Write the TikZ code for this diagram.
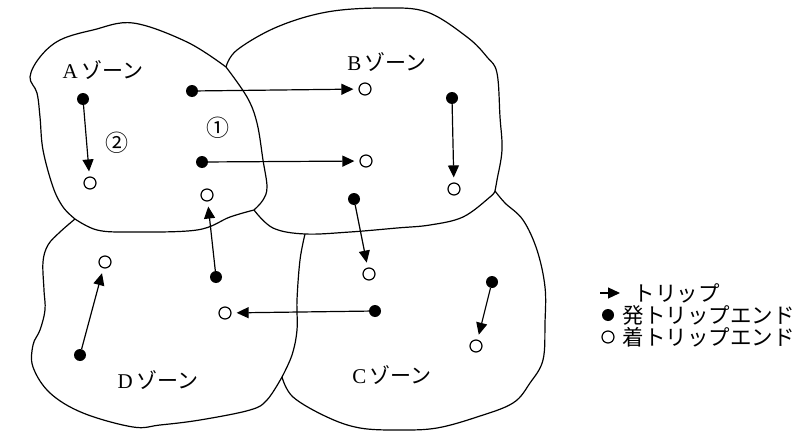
\documentclass[tikz,border=0pt]{standalone}
\usepackage{fontspec}
\setmainfont{Liberation Serif}
\newfontfamily\jp{Noto Sans CJK JP}
\usetikzlibrary{arrows.meta}
\tikzset{
zone/.style={line width=1.2pt, line join=round},
dep/.style={circle, fill=black, inner sep=0pt, minimum size=12pt},
arr/.style={circle, draw=black, line width=1.2pt, inner sep=0pt, minimum size=12pt},
trip/.style={-{Triangle[length=12pt,width=11pt]}, line width=1.2pt, shorten >=5pt},
zonename/.style={font=\fontsize{21}{21}\selectfont},
legtext/.style={anchor=west, font=\jp\fontsize{21.5}{21.5}\selectfont},
}

\begin{document}
\begin{tikzpicture}[x=1pt,y=-1pt]
        \useasboundingbox (0,0) rectangle (807,431);
        % zone outlines
        \draw[zone] plot[smooth, tension=0.6] coordinates {(75,219) (63,207) (53,187) (43,150) (40,117) (37,93) (30,77) (40,57) (60,40) (93,30) (133,23) (187,42) (226,67)};
        \draw[zone] plot[smooth, tension=0.6] coordinates {(226,67) (247,97) (257,123) (263,160) (267,187) (263,200) (254,210)};
        \draw[zone] plot[smooth, tension=0.6] coordinates {(75,219) (97,230) (130,232) (197,230) (230,217) (254,210)};
        \draw[zone] plot[smooth, tension=0.6] coordinates {(226,67) (237,50) (277,27) (327,12) (383,8) (427,12) (467,37) (487,57) (497,73) (500,117) (502,150) (497,180) (495,191)};
        \draw[zone] plot[smooth, tension=0.6] coordinates {(254,210) (273,228) (305,234) (350,232) (397,228) (430,225) (463,217) (490,197) (495,191)};
        \draw[zone] plot[smooth, tension=0.6] coordinates {(75,219) (60,232) (48,245) (43,262) (44,290) (45,310) (40,330) (33,345) (33,367) (50,393) (83,413) (133,427) (160,425) (200,420) (250,410) (267,400) (282,377)};
        \draw[zone] plot[smooth, tension=0.6] coordinates {(305,234) (300,260) (297,300) (297,330) (292,355) (282,377)};
        \draw[zone] plot[smooth, tension=0.6] coordinates {(282,377) (293,397) (327,417) (360,428) (400,430) (437,428) (477,417) (513,403) (530,383) (543,360) (545,323) (545,287) (537,250) (523,220) (505,203) (495,191)};
        % zone names
        \node[zonename] (za) at (103,70) {A\,{\jp ゾーン}};
        \node[zonename] (zb) at (387,62) {B\,{\jp ゾーン}};
        \node[zonename] (zc) at (392,375) {C\,{\jp ゾーン}};
        \node[zonename] (zd) at (158,380) {D\,{\jp ゾーン}};
        \node[zonename] (n1) at (218,128) {\jp\fontsize{23}{23}\selectfont ①};
        \node[zonename] (n2) at (117,143) {\jp\fontsize{23}{23}\selectfont ②};
        % trip ends
        \node[dep] (a1) at (83,99) {};
        \node[arr] (a2) at (90,183) {};
        \node[dep] (a3) at (192,91) {};
        \node[dep] (a4) at (202,162) {};
        \node[arr] (a5) at (207,195) {};
        \node[arr] (b1) at (365,89) {};
        \node[arr] (b2) at (366,161) {};
        \node[dep] (b3) at (452,98) {};
        \node[arr] (b4) at (454,189) {};
        \node[dep] (b5) at (354,199) {};
        \node[arr] (c1) at (369,274) {};
        \node[dep] (c2) at (375,311) {};
        \node[dep] (c3) at (492,282) {};
        \node[arr] (c4) at (476,346) {};
        \node[dep] (d1) at (80,355) {};
        \node[arr] (d2) at (105,262) {};
        \node[dep] (d3) at (216,277) {};
        \node[arr] (d4) at (225,313) {};
        % trips
        \draw[trip] (a1) -- (a2);
        \draw[trip] (a3) -- (b1);
        \draw[trip] (a4) -- (b2);
        \draw[trip] (b3) -- (b4);
        \draw[trip] (b5) -- (c1);
        \draw[trip] (c2) -- (d4);
        \draw[trip] (c3) -- (c4);
        \draw[trip] (d1) -- (d2);
        \draw[trip] (d3) -- (a5);
        % legend
        \coordinate (l0) at (600,293);
        \coordinate (l1) at (620,293);
        \draw[trip, shorten >=0pt] (l0) -- (l1);
        \node[dep] (ldep) at (608,315) {};
        \node[arr] (larr) at (608,337) {};
        \node[legtext] (t0) at (630,293) {トリップ};
        \node[legtext] (t1) at (619,315) {発トリップエンド};
        \node[legtext] (t2) at (619,337) {着トリップエンド};
\end{tikzpicture}
\end{document}
